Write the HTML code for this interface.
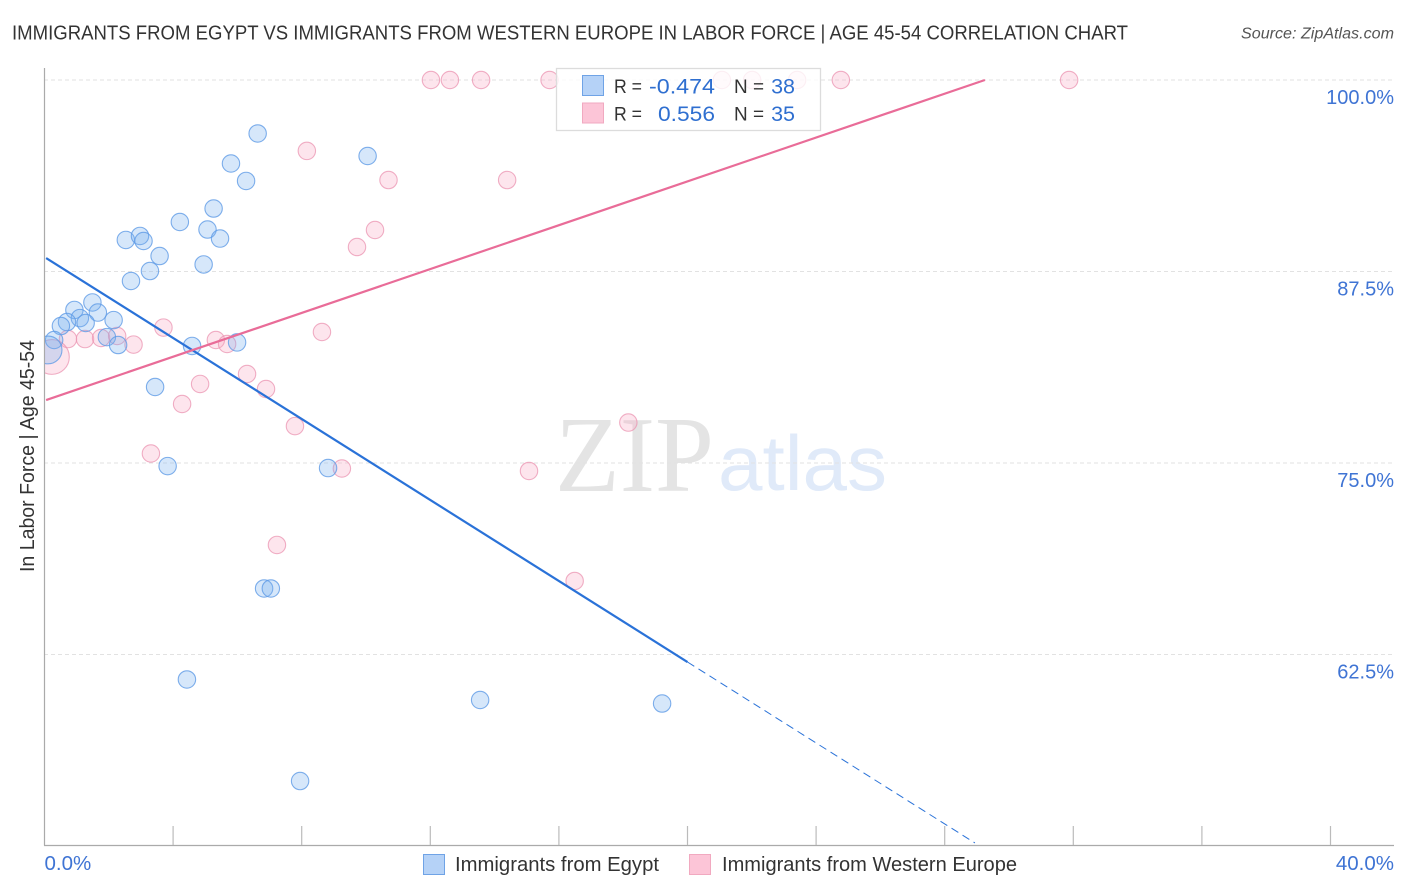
<!DOCTYPE html>
<html lang="en">
<head>
<meta charset="utf-8">
<title>Immigrants from Egypt vs Immigrants from Western Europe in Labor Force | Age 45-54 Correlation Chart</title>
<style>
html,body{margin:0;padding:0;background:#fff;width:1406px;height:892px;overflow:hidden}
svg{display:block;font-family:"Liberation Sans",sans-serif}
</style>
</head>
<body>
<svg id="chart" width="1406" height="892" viewBox="0 0 1406 892" xmlns="http://www.w3.org/2000/svg">
  <defs><clipPath id="plot-clip"><rect x="45" y="60" width="1349" height="785"/></clipPath></defs>
  <rect width="1406" height="892" fill="#fff"/>
  <text x="12" y="39.5" font-size="20" fill="#333" textLength="1116" lengthAdjust="spacingAndGlyphs">IMMIGRANTS FROM EGYPT VS IMMIGRANTS FROM WESTERN EUROPE IN LABOR FORCE | AGE 45-54 CORRELATION CHART</text>
  <text x="1241" y="38.5" font-size="15.5" font-style="italic" fill="#555" textLength="153" lengthAdjust="spacingAndGlyphs">Source: ZipAtlas.com</text>
  <g>
    <text x="555" y="491" font-family="'Liberation Serif',serif" font-size="108" fill="#e4e4e4" textLength="159" lengthAdjust="spacingAndGlyphs">ZIP</text>
    <text x="718" y="490" font-size="78" fill="#e0eaf9" textLength="169" lengthAdjust="spacingAndGlyphs">atlas</text>
  </g>
  <g id="grid"></g>
  <g id="axes"></g>
  <g id="points-pink" clip-path="url(#plot-clip)"></g>
  <g id="points-blue" clip-path="url(#plot-clip)"></g>
  <g id="trends"></g>
  <text transform="translate(34,456) rotate(-90)" text-anchor="middle" font-size="20" fill="#333" textLength="232" lengthAdjust="spacingAndGlyphs">In Labor Force | Age 45-54</text>
  <g>
    <rect x="556.5" y="68.5" width="264" height="62" fill="#fff" fill-opacity="0.8" stroke="#dcdcdc" stroke-width="1.3"/>
    <rect x="582.5" y="75.5" width="21" height="20" fill="#b5d2f7" stroke="#6fa3e6" stroke-width="1"/>
    <rect x="582.5" y="103" width="21" height="20" fill="#fcc5d7" stroke="#f1a9c0" stroke-width="1"/>
    <text x="614" y="93" font-size="19.5" fill="#333" textLength="28" lengthAdjust="spacingAndGlyphs">R =</text>
    <text x="649" y="93.5" font-size="21.5" fill="#2f6fd0" textLength="66" lengthAdjust="spacingAndGlyphs">-0.474</text>
    <text x="734" y="93" font-size="19.5" fill="#333" textLength="30" lengthAdjust="spacingAndGlyphs">N =</text>
    <text x="795" y="93.5" font-size="21.5" fill="#2f6fd0" text-anchor="end">38</text>
    <text x="614" y="120.5" font-size="19.5" fill="#333" textLength="28" lengthAdjust="spacingAndGlyphs">R =</text>
    <text x="658" y="121" font-size="21.5" fill="#2f6fd0" textLength="57" lengthAdjust="spacingAndGlyphs">0.556</text>
    <text x="734" y="120.5" font-size="19.5" fill="#333" textLength="30" lengthAdjust="spacingAndGlyphs">N =</text>
    <text x="795" y="121" font-size="21.5" fill="#2f6fd0" text-anchor="end">35</text>
  </g>
  <g>
    <rect x="423.5" y="854.5" width="21" height="20" fill="#b5d2f7" stroke="#6fa3e6" stroke-width="1"/>
    <text x="455" y="871" font-size="20" fill="#333" textLength="204" lengthAdjust="spacingAndGlyphs">Immigrants from Egypt</text>
    <rect x="689.5" y="854.5" width="21" height="20" fill="#fcc5d7" stroke="#f1a9c0" stroke-width="1"/>
    <text x="722" y="871" font-size="20" fill="#333" textLength="295" lengthAdjust="spacingAndGlyphs">Immigrants from Western Europe</text>
  </g>
</svg>
<script>
// Chart data (percent values)
const egyptX = [6.63,5.80,6.27,10.05,5.26,4.21,5.07,5.46,2.53,2.97,3.08,3.58,4.95,3.28,2.69,1.49,0.93,1.66,1.10,0.70,1.28,2.15,0.51,1.94,2.29,0.30,0.11,4.59,5.99,3.44,3.83,8.82,6.83,7.04,4.43,13.55,19.21,7.95];
const egyptY = [96.51,94.55,93.41,95.04,91.61,90.73,90.24,89.65,89.56,89.82,89.49,88.51,87.96,87.53,86.88,85.48,84.99,84.82,84.46,84.20,84.14,84.33,83.94,83.22,82.70,83.03,82.38,82.64,82.87,79.96,74.80,74.67,66.81,66.81,60.87,59.53,59.30,54.24];
const egyptWeight = [1,1,1,1,1,1,1,1,1,1,1,1,1,1,1,1,1,1,1,1,1,1,1,1,1,1,1.6,1,1,1,1,1,1,1,1,1,1,1];
const europeX = [12.02,12.61,13.58,15.71,21.07,22.01,23.41,24.77,31.87,8.16,10.70,14.39,10.28,9.72,3.70,8.63,5.33,5.68,0.73,1.26,1.76,2.26,2.77,0.23,6.30,6.89,4.84,4.28,7.79,3.31,9.25,15.07,18.16,7.23,16.49];
const europeY = [100,100,100,100,100,100,100,100,100,95.37,93.47,93.47,90.21,89.10,83.84,83.55,83.03,82.77,83.09,83.09,83.16,83.29,82.73,81.92,80.81,79.83,80.16,78.85,77.41,75.62,74.64,74.48,77.64,69.65,67.30];
const europeWeight = [1,1,1,1,1,1,1,1,1,1,1,1,1,1,1,1,1,1,1,1,1,1,1,2,1,1,1,1,1,1,1,1,1,1,1];
const egyptTrendX = [0.05,20.0,28.94];
const egyptTrendY = [88.38,62.01,50.2];
const europeTrendX = [0.05,29.25];
const europeTrendY = [79.11,100];
const yTickValues = [100,87.5,75,62.5];
const yTickLabels = ['100.0%','87.5%','75.0%','62.5%'];
const xTickValues = [4,8,12,16,20,24,28,32,36,40];
const xEndValues = [0,40];
const xEndLabels = ['0.0%','40.0%'];

const NS = 'http://www.w3.org/2000/svg';
const xScale = v => 44.5 + v * 32.15;
const yScale = v => 80 + (100 - v) * 15.32;
function make(parent, tag, attrs) {
  const el = document.createElementNS(NS, tag);
  for (const k in attrs) el.setAttribute(k, attrs[k]);
  document.getElementById(parent).appendChild(el);
  return el;
}

yTickValues.forEach((v, i) => {
  const line = make('grid', 'line', {x1: 44, x2: 1394, y1: yScale(v), y2: yScale(v), stroke: '#e2e2e2', 'stroke-width': 1, 'stroke-dasharray': '4 3'});
  
  
  const label = make('axes', 'text', {x: 1394, y: yScale(v) + 24, 'text-anchor': 'end', 'font-size': 20, fill: '#3f74d4'});
  label.textContent = yTickLabels[i];
  
  
});

const leftAxis = make('axes', 'line', {x1: 44.5, x2: 44.5, y1: 68, y2: 845.5, stroke: '#aaa', 'stroke-width': 1.2});


const bottomAxis = make('axes', 'line', {x1: 44, x2: 1394, y1: 845.5, y2: 845.5, stroke: '#aaa', 'stroke-width': 1.2});



xTickValues.forEach(v => {
  const tick = make('axes', 'line', {x1: xScale(v), x2: xScale(v), y1: 826, y2: 845, stroke: '#bbb', 'stroke-width': 1.2});
  
  
});
xEndValues.forEach((v, i) => {
  const label = make('axes', 'text', {x: i === 0 ? xScale(v) : 1394, y: 870, 'text-anchor': i === 0 ? 'start' : 'end', 'font-size': 20.5, fill: '#3f74d4'});
  label.textContent = xEndLabels[i];
  
  
});

europeX.forEach((v, i) => {
  const c = make('points-pink', 'circle', {cx: xScale(v), cy: yScale(europeY[i]), r: 8.7 * europeWeight[i], fill: '#f7a8c2', 'fill-opacity': 0.3, stroke: '#eb94b2', 'stroke-opacity': 0.75, 'stroke-width': 1.1});
  
  
});
egyptX.forEach((v, i) => {
  const c = make('points-blue', 'circle', {cx: xScale(v), cy: yScale(egyptY[i]), r: 8.7 * egyptWeight[i], fill: '#78aef0', 'fill-opacity': 0.3, stroke: '#5f9be6', 'stroke-opacity': 0.8, 'stroke-width': 1.1});
  
  
});

const blueSolid = make('trends', 'line', {x1: xScale(egyptTrendX[0]), y1: yScale(egyptTrendY[0]), x2: xScale(egyptTrendX[1]), y2: yScale(egyptTrendY[1]), stroke: '#2a72d8', 'stroke-width': 2.2});


const blueDash = make('trends', 'line', {x1: xScale(egyptTrendX[1]), y1: yScale(egyptTrendY[1]), x2: xScale(egyptTrendX[2]), y2: yScale(egyptTrendY[2]), stroke: '#2a72d8', 'stroke-width': 1, 'stroke-dasharray': '8 5'});


const pinkLine = make('trends', 'line', {x1: xScale(europeTrendX[0]), y1: yScale(europeTrendY[0]), x2: xScale(europeTrendX[1]), y2: yScale(europeTrendY[1]), stroke: '#e96c98', 'stroke-width': 2.2});


</script>
</body>
</html>
